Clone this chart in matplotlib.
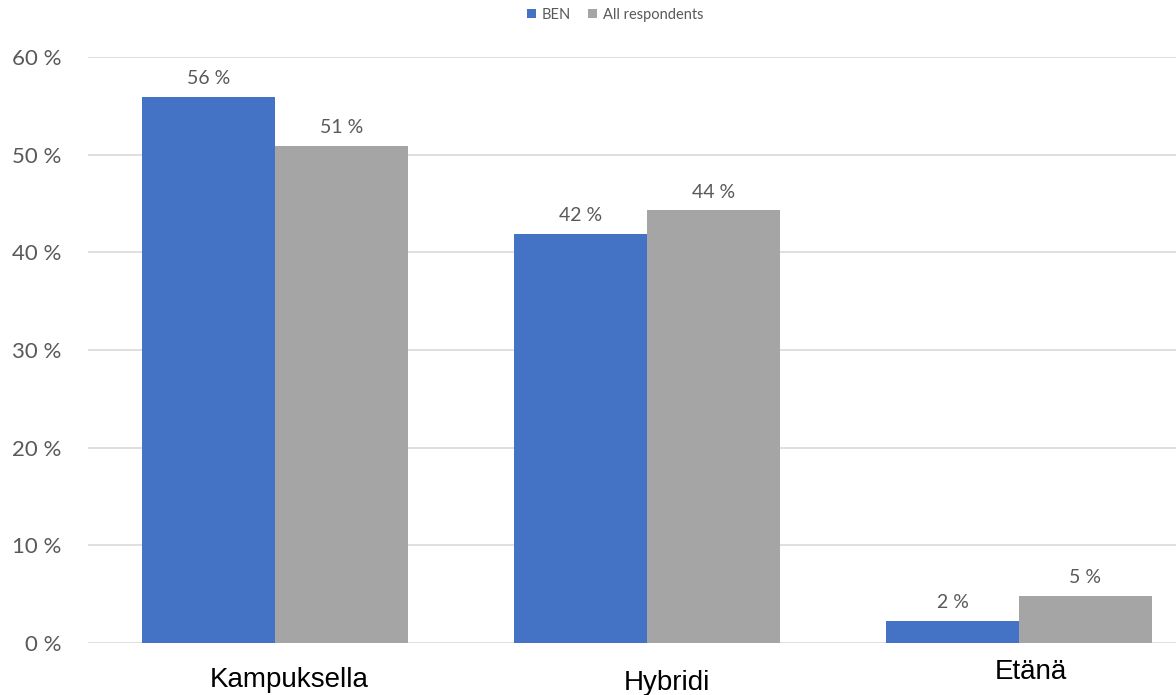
import matplotlib
matplotlib.use("Agg")
import matplotlib.pyplot as plt
import numpy as np
from matplotlib.transforms import ScaledTranslation

categories = ["Kampuksella", "Hybridi", "Etänä"]
series_names = ["BEN", "All respondents"]
ben = [55.9, 41.9, 2.3]
all_resp = [50.9, 44.3, 4.8]
yticks = [0, 10, 20, 30, 40, 50, 60]
ytick_labels = ["0 %", "10 %", "20 %", "30 %", "40 %", "50 %", "60 %"]

blue = "#4472C4"
gray = "#A5A5A5"
text_gray = "#595959"

fig = plt.figure(figsize=(11.76, 6.95), dpi=100)
ax = fig.add_axes([88/1176, 1-643/695, 1-88/1176, (643-57)/695])

x = np.arange(len(categories))
w = 0.357
b1 = ax.bar(x - w/2, ben, width=w, color=blue, label=series_names[0], zorder=3)
b2 = ax.bar(x + w/2, all_resp, width=w, color=gray, label=series_names[1], zorder=3)

for bars in (b1, b2):
    ax.bar_label(bars, labels=[f"{v:.0f} %" for v in bars.datavalues], padding=7,
                 fontsize=14, color=text_gray, family="Lato")

ax.set_xlim(-0.503, 2.422)
ax.set_ylim(0, 60)
ax.set_yticks(yticks)
ax.set_yticklabels(ytick_labels, fontsize=16, color=text_gray, family="Lato")
ax.tick_params(axis="y", length=0, pad=19)
ax.set_xticks([])
ax.grid(axis="y", color="#D9D9D9", linewidth=1.2, zorder=0)
for s in ax.spines.values():
    s.set_visible(False)

# category labels (slightly uneven placement as in the reference)
offsets_px = [(14, -37), (20, -40), (12, -29)]
for xi, cat, (dx, dy) in zip(x, categories, offsets_px):
    tr = ax.get_xaxis_transform() + ScaledTranslation(dx/100, dy/100, fig.dpi_scale_trans)
    ax.text(xi, 0, cat, transform=tr, ha="center", va="center",
            fontsize=20, family="Liberation Sans", color="black")

fig.legend(loc="center", bbox_to_anchor=(0.523, 1-15/695), ncol=2, frameon=False,
           prop={"family": "Lato", "size": 10.5}, labelcolor=text_gray,
           handlelength=0.6, handleheight=0.6, handletextpad=0.4, columnspacing=1.2)

fig.savefig("out.png", dpi=100)
